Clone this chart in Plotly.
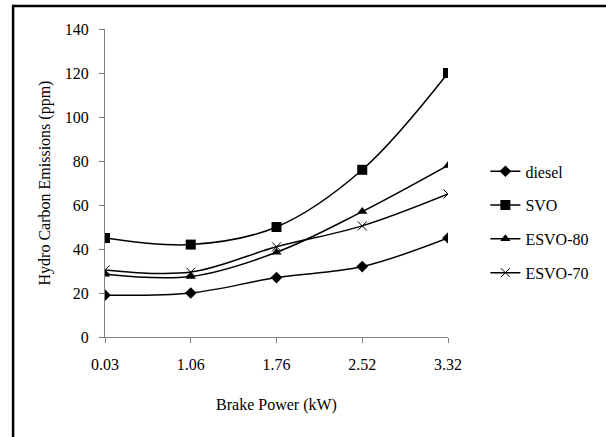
import plotly.graph_objects as go

categories = ["0.03", "1.06", "1.76", "2.52", "3.32"]
diesel = [19, 20, 27, 32, 45]
svo = [45, 42, 50, 76, 120]
esvo80 = [28.5, 27.5, 38.5, 57, 78]
esvo70 = [30.5, 29.5, 41, 50.5, 65]
y_ticks = [0, 20, 40, 60, 80, 100, 120, 140]

FONT = "Liberation Serif"

series = [
    ("diesel", diesel, "diamond", 9, 0),
    ("SVO", svo, "square", 10, 0),
    ("ESVO-80", esvo80, "triangle-up", 9, 0),
    ("ESVO-70", esvo70, "x-thin", 9, 1),
]

fig = go.Figure()
for i, (name, vals, sym, size, lw) in enumerate(series):
    fig.add_trace(go.Scatter(
        x=categories, y=vals, name=name, mode="lines+markers",
        line=dict(color="black", width=1.5, shape="spline", smoothing=1),
        marker=dict(symbol=sym, size=size, color="black",
                    line=dict(color="black", width=lw)),
        legendgroup=name,
    ))

fig.update_layout(
    width=606, height=437,
    margin=dict(l=105, r=154, t=29, b=100),
    paper_bgcolor="white", plot_bgcolor="white",
    font=dict(family=FONT, size=16, color="black"),
    showlegend=True,
    legend=dict(x=1.109, y=0.593, xanchor="left", yanchor="top",
                font=dict(family=FONT, size=16, color="black"),
                traceorder="grouped", tracegroupgap=10,
                bgcolor="rgba(0,0,0,0)", itemwidth=30),
    xaxis=dict(type="category", range=[0, 4], showline=True,
               linecolor="#808080", linewidth=1, ticks="outside",
               ticklen=5, tickcolor="#808080", showgrid=False,
               zeroline=False, tickfont=dict(family=FONT, size=16),
               ticklabelstandoff=8,
               title=dict(text="Brake Power (kW)", font=dict(family=FONT, size=16), standoff=26)),
    yaxis=dict(range=[0, 140], tickvals=y_ticks, showline=True,
               linecolor="#808080", linewidth=1, ticks="outside",
               ticklen=5, tickcolor="#808080", showgrid=False,
               zeroline=False, tickfont=dict(family=FONT, size=16),
               ticklabelstandoff=7,
               title=dict(text="Hydro Carbon Emissions (ppm)", font=dict(family=FONT, size=16), standoff=10)),
    shapes=[
        dict(type="line", xref="paper", yref="paper", x0=-0.268, x1=1.5, y0=1.0747, y1=1.0747,
             line=dict(color="black", width=2.5)),
        dict(type="line", xref="paper", yref="paper", x0=-0.268, x1=-0.268, y0=1.079, y1=-0.4,
             line=dict(color="black", width=2.5)),
    ],
)

fig.write_html("out.html")
